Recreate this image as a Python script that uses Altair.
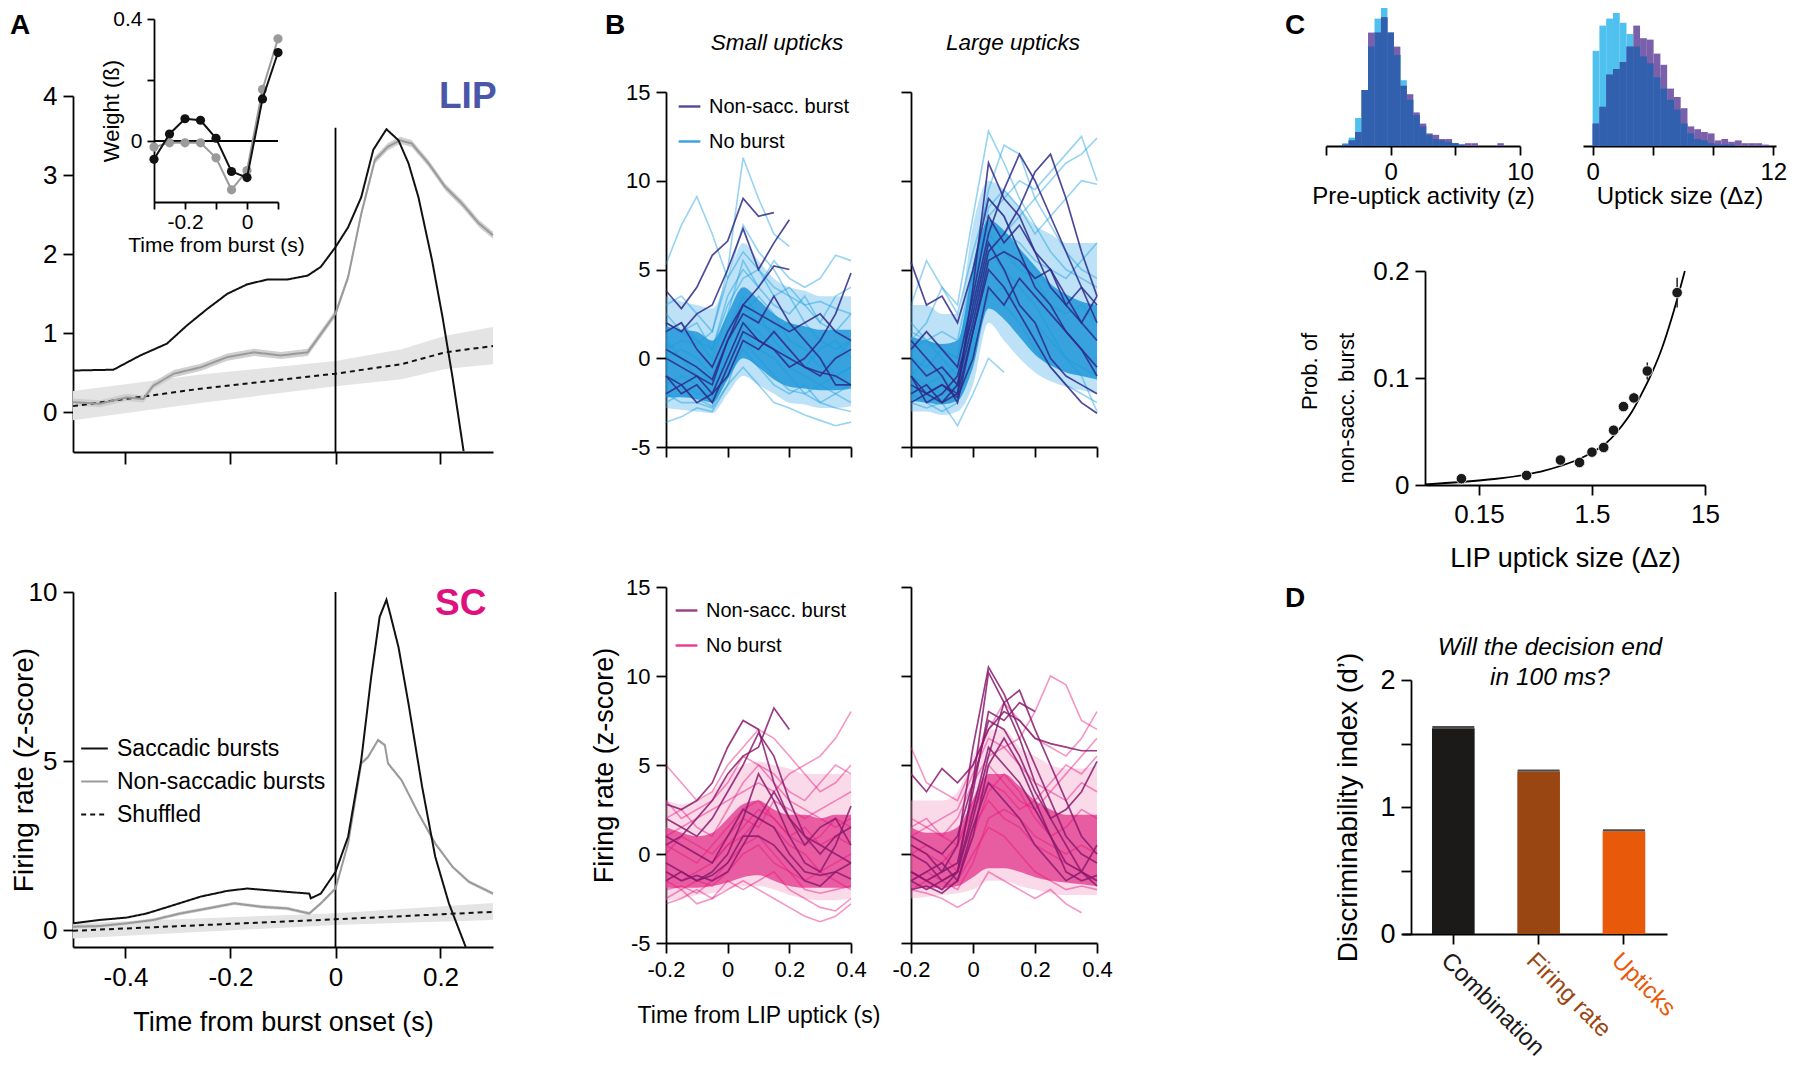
import altair as alt
import pandas as pd

FONT = "Liberation Sans"
W, H = 1784, 1055
MINUS = "replace(datum.label, '\u2212', '-')"

# ====================== DATA ======================
# ---- Panel A, LIP ----
lip_sacc_t = [-0.5, -0.423, -0.372, -0.321, -0.283, -0.244, -0.206, -0.168, -0.130, -0.092, -0.053, -0.028,
              0.0, 0.024, 0.049, 0.072, 0.097, 0.120, 0.139, 0.158, 0.184, 0.204, 0.223, 0.244]
lip_sacc_y = [0.53, 0.54, 0.72, 0.87, 1.10, 1.31, 1.50, 1.62, 1.68, 1.68, 1.73, 1.84,
              2.09, 2.34, 2.72, 3.32, 3.58, 3.44, 3.15, 2.72, 1.92, 1.20, 0.44, -0.49]
lip_nons_t = [-0.5, -0.449, -0.398, -0.366, -0.347, -0.308, -0.257, -0.206, -0.155, -0.104, -0.053, -0.028,
              0.0, 0.024, 0.049, 0.075, 0.100, 0.123, 0.145, 0.177, 0.209, 0.241, 0.273, 0.3]
lip_nons_y = [0.13, 0.11, 0.19, 0.17, 0.34, 0.49, 0.57, 0.70, 0.76, 0.72, 0.76, 0.99,
              1.25, 1.71, 2.51, 3.19, 3.36, 3.44, 3.40, 3.15, 2.85, 2.64, 2.39, 2.24]
lip_nons_sem = 0.045
lip_shuf_t = [-0.5, -0.257, 0.0, 0.126, 0.209, 0.3]
lip_shuf_y = [0.08, 0.30, 0.49, 0.61, 0.76, 0.84]
lip_shuf_lo = [-0.10, 0.12, 0.33, 0.42, 0.55, 0.61]
lip_shuf_hi = [0.27, 0.48, 0.65, 0.80, 0.97, 1.08]
lip_rule_top = 3.6

# ---- Panel A, inset ----
inset_t = [-0.3, -0.25, -0.2, -0.15, -0.1, -0.05, 0.0, 0.05, 0.1]
inset_sacc = [-0.06, 0.023, 0.073, 0.068, 0.009, -0.10, -0.12, 0.138, 0.29]
inset_nons = [-0.02, -0.006, -0.006, -0.006, -0.055, -0.16, -0.097, 0.169, 0.335]

# ---- Panel A, SC ----
sc_sacc_t = [-0.5, -0.449, -0.398, -0.36, -0.308, -0.257, -0.206, -0.168, -0.130, -0.092, -0.050, -0.047, -0.028,
             0.0, 0.024, 0.049, 0.068, 0.084, 0.097, 0.104, 0.120, 0.139, 0.165, 0.190, 0.216, 0.248]
sc_sacc_y = [0.20, 0.30, 0.37, 0.49, 0.74, 0.99, 1.16, 1.23, 1.18, 1.13, 1.08, 0.94, 1.08,
             1.72, 2.76, 5.02, 7.49, 9.26, 9.77, 9.36, 8.37, 6.70, 4.24, 2.17, 0.79, -0.5]
sc_nons_t = [-0.5, -0.449, -0.398, -0.347, -0.296, -0.244, -0.193, -0.142, -0.092, -0.050, -0.028,
             0.0, 0.024, 0.049, 0.062, 0.081, 0.094, 0.100, 0.126, 0.158, 0.190, 0.223, 0.254, 0.3]
sc_nons_y = [0.10, 0.12, 0.20, 0.30, 0.49, 0.64, 0.79, 0.69, 0.64, 0.49, 0.79,
             1.23, 2.56, 4.93, 5.12, 5.62, 5.47, 4.93, 4.43, 3.45, 2.56, 1.87, 1.43, 1.08]
sc_nons_sem = 0.05
sc_shuf_t = [-0.5, 0.0, 0.3]
sc_shuf_y = [-0.02, 0.32, 0.54]
sc_shuf_lo = [-0.25, 0.15, 0.30]
sc_shuf_hi = [0.20, 0.50, 0.80]
series_names = ["Saccadic bursts", "Non-saccadic bursts", "Shuffled"]

# ---- Panel B ----
b_t = [-0.2, -0.15, -0.1, -0.05, 0.0, 0.05, 0.1, 0.15, 0.2, 0.25, 0.3, 0.35, 0.4]
N = None

lip_small_outer_lo = [-2.8, -2.9, -3.0, -3.1, -2.0, -1.0, -1.5, -2.0, -2.5, -2.6, -2.8, -2.8, -2.7]
lip_small_outer_hi = [3.5, 3.2, 3.0, 2.8, 4.5, 6.5, 5.5, 4.5, 4.0, 3.8, 3.5, 3.5, 3.5]
lip_small_core_lo = [-2.2, -2.2, -2.3, -2.5, -1.2, 0.0, -0.5, -1.2, -1.6, -1.7, -1.8, -1.8, -1.7]
lip_small_core_hi = [1.8, 1.6, 1.5, 1.0, 2.5, 4.0, 3.3, 2.5, 2.0, 1.8, 1.6, 1.6, 1.6]
lip_small_light = [
    [5.3, 7.5, 9.1, 7.0, 4.5, 6.0, 5.0, 4.0, 3.5, 3.0, 3.2, 2.8, 2.5],
    [0.5, 1.0, 0.8, 1.5, 5.0, 11.3, 9.0, 7.0, 6.3, N, N, N, N],
    [2.0, 1.5, 1.0, 0.5, 3.5, 5.0, 4.0, 5.5, 4.5, 4.0, 4.5, 5.8, 5.5],
    [-3.6, -3.3, -2.8, -3.0, -1.5, -0.5, -1.5, -2.5, -2.8, -3.2, -3.5, -3.8, -3.6],
    [-2.5, -2.0, -2.3, -2.7, -1.0, 0.5, -0.5, -1.5, -2.0, -1.5, -2.5, -2.8, -3.0],
    [0.5, 0.0, -0.5, -1.5, 1.5, 3.5, 2.5, 1.0, 0.0, -0.5, 0.5, 1.0, 0.0],
    [1.5, 2.0, 1.0, 0.0, 2.5, 5.5, 4.0, 3.0, 2.5, 3.5, 2.0, 1.5, 2.5],
    [-1.0, -1.5, -2.0, -2.0, 0.0, 2.0, 1.5, 0.5, -0.5, -1.0, -1.5, -1.0, -0.5],
    [3.0, 3.5, 2.5, 1.5, 4.5, 7.5, 6.0, 5.0, 3.5, 2.0, 1.0, 0.5, 1.0],
    [-2.0, -2.5, -2.5, -2.8, -1.5, 1.0, 0.0, -1.0, -1.8, -2.0, -1.5, -2.0, -2.5],
    [0.0, 0.5, 0.0, -1.0, 1.0, 2.5, 3.5, 2.5, 1.0, 0.5, -0.5, 0.0, 1.0],
    [2.5, 1.5, 2.0, 0.5, 3.0, 4.5, 5.0, 3.5, 4.0, 3.0, 2.0, 3.5, 4.0],
    [-1.5, -1.0, -1.5, -2.5, -0.5, 1.5, 0.5, 0.0, -1.0, -2.0, -2.5, -2.0, -1.5],
    [1.0, 0.0, -1.0, -2.0, 0.5, 3.0, 2.0, 1.5, 2.0, 1.0, 0.0, -1.0, -0.5],
]
lip_small_dark = [
    [3.8, 2.8, 4.0, 5.8, 6.6, 9.0, 8.0, 8.2, N, N, N, N, N],
    [2.0, 1.5, 2.5, 3.0, 5.0, 7.3, 5.0, 6.5, 7.8, N, N, N, N],
    [0.0, -0.5, -1.0, -1.5, 1.0, 3.0, 4.0, 5.2, 5.0, N, N, N, N],
    [-1.0, -1.5, -1.0, -2.0, 0.0, 2.0, 1.0, 0.5, -0.5, 0.0, 1.0, 2.5, 4.8],
    [0.5, 0.0, -0.5, -1.2, 1.0, 2.5, 2.0, 3.5, 2.0, 1.0, 0.0, -1.5, -1.5],
    [-1.0, -2.0, -1.5, -2.5, -0.5, 1.5, 1.0, 0.5, 0.0, -0.5, -1.0, 0.0, 0.5],
    [1.5, 2.0, 0.5, -0.5, 1.5, 3.0, 2.5, 2.0, 1.5, 2.0, 2.5, 1.5, 1.0],
    [-2.0, -1.5, -2.5, -2.0, -1.0, 1.0, 0.5, 1.5, 0.5, -0.5, -0.8, -1.0, -1.5],
]

lip_large_outer_lo = [-3.0, -3.0, -3.2, -3.0, -1.5, 2.0, 1.0, 0.0, -0.8, -1.3, -1.6, -1.8, -2.0]
lip_large_outer_hi = [3.0, 3.0, 2.5, 2.5, 7.5, 10.0, 9.5, 8.5, 7.5, 7.0, 6.5, 6.5, 6.5]
lip_large_core_lo = [-2.4, -2.5, -2.6, -2.4, -0.5, 2.8, 2.2, 1.2, 0.2, -0.4, -0.8, -1.0, -1.2]
lip_large_core_hi = [1.2, 1.0, 0.8, 1.0, 5.0, 7.8, 7.2, 6.2, 5.2, 4.2, 3.6, 3.2, 3.0]
lip_large_light = [
    [1.0, 2.0, 4.0, 3.0, 8.0, 12.8, 11.0, 9.0, 7.5, 6.0, 5.0, 4.5, 4.0],
    [0.0, -0.5, 0.5, 0.0, 5.0, 9.5, 12.0, 11.5, 9.0, 7.5, 6.0, 5.0, 4.5],
    [-1.0, -1.5, -1.0, -0.5, 3.0, 6.0, 7.0, 8.0, 9.0, 10.0, 11.0, 11.5, 12.4],
    [1.5, 1.0, 0.5, 0.0, 4.0, 8.0, 9.0, 10.0, 9.5, 10.5, 11.5, 12.5, 10.0],
    [-1.5, -2.0, -2.5, -3.8, -2.0, 0.0, -0.8, N, N, N, N, N, N],
    [3.0, 5.5, 4.0, 2.5, 6.0, 9.0, 8.0, 6.0, 5.0, 4.0, 3.0, 2.0, 1.0],
    [-2.5, -2.8, -2.5, -2.0, 1.0, 4.0, 3.0, 2.0, 0.5, -0.5, -1.5, -2.0, -2.5],
    [-2.0, -1.5, -2.0, -1.5, 2.0, 6.0, 5.0, 4.0, 3.0, 1.5, 0.0, -1.0, -3.0],
    [0.5, 1.0, 0.0, -1.0, 4.0, 8.5, 9.5, 8.5, 7.0, 8.0, 9.0, 10.0, 9.8],
    [-1.0, 0.0, -1.0, -2.0, 2.5, 7.0, 6.0, 5.0, 4.5, 3.0, 2.5, 3.0, 2.0],
    [2.0, 1.0, 1.5, 1.0, 5.0, 7.5, 7.0, 6.5, 5.5, 5.0, 4.5, 5.5, 6.5],
    [-2.0, -2.5, -3.0, -2.5, 0.5, 3.5, 4.0, 3.0, 2.0, 1.0, 0.0, -0.5, -1.0],
]
lip_large_dark = [
    [5.4, 3.0, 3.5, 2.0, 5.0, 9.0, 8.0, 6.0, 4.0, 3.0, 1.5, 0.5, -0.5],
    [-1.0, -2.0, -1.5, -2.0, 4.0, 11.0, 9.0, 8.0, 6.0, 5.0, 3.0, 2.0, 1.0],
    [-1.5, -2.0, -2.5, -1.5, 3.0, 7.0, 9.5, 11.5, 10.0, 8.0, 6.0, 4.0, 2.0],
    [0.0, -1.0, -0.5, -1.5, 2.0, 6.0, 7.0, 8.5, 10.5, 11.5, 9.0, 6.0, 3.5],
    [-2.0, -1.5, -2.5, -2.0, 1.5, 5.0, 4.0, 2.5, 1.0, -0.5, -1.5, -2.5, -3.1],
    [-1.0, -2.5, -2.0, -1.0, 2.5, 6.5, 5.0, 3.0, 2.0, 0.0, -1.0, -1.5, -2.0],
    [1.0, 0.0, -1.0, -2.5, 1.5, 5.5, 6.0, 5.5, 4.5, 5.0, 3.5, 2.0, 3.5],
    [-2.5, -2.0, -1.5, -2.2, 0.0, 4.0, 3.0, 4.5, 3.5, 2.5, 1.5, 0.5, -1.0],
    [0.5, 1.5, 0.5, -0.5, 3.5, 8.0, 6.5, 7.5, 6.0, 4.0, 3.0, 4.0, 3.0],
]

sc_small_outer_lo = [-2.6, -2.5, -2.3, -2.2, -2.0, -1.8, -1.8, -2.0, -2.3, -2.5, -2.6, -2.6, -2.5]
sc_small_outer_hi = [3.0, 2.8, 3.0, 3.5, 4.5, 5.0, 5.2, 5.0, 4.8, 4.5, 4.5, 4.5, 4.5]
sc_small_core_lo = [-1.9, -1.9, -1.9, -1.8, -1.6, -1.3, -1.2, -1.5, -1.8, -1.9, -1.9, -1.9, -1.9]
sc_small_core_hi = [1.5, 1.2, 1.0, 1.2, 2.0, 2.8, 3.0, 2.5, 2.2, 2.2, 2.0, 2.2, 2.2]
sc_small_light = [
    [1.0, 1.5, 2.0, 2.5, 3.0, 3.5, 4.0, 3.5, 4.5, 5.0, 5.5, 6.5, 8.0],
    [5.0, 4.0, 3.0, 3.5, 5.0, 6.0, 7.0, 6.5, 5.5, 4.5, 3.5, 4.0, 5.0],
    [-2.8, -2.5, -2.0, -2.5, -2.0, -1.5, -2.0, -2.5, -3.0, -3.5, -3.8, -3.5, -2.8],
    [-2.5, -2.0, -2.8, -2.5, -1.5, -2.0, -1.5, -1.0, -2.0, -2.5, -3.0, -3.2, -2.5],
    [0.5, 0.0, -0.5, 0.5, 1.5, 2.5, 3.0, 2.0, 1.0, 0.5, 1.0, 2.0, 1.5],
    [-1.0, -1.5, -1.0, -0.5, 0.5, 1.0, 2.0, 1.5, 0.5, 0.0, -1.0, -0.5, 0.0],
    [2.0, 2.5, 1.5, 1.0, 2.5, 4.0, 5.0, 4.5, 3.5, 3.0, 4.0, 5.0, 4.5],
    [-1.5, -2.0, -1.5, -1.8, -1.0, 0.0, 0.5, -0.5, -1.0, -1.5, -1.0, -1.5, -2.0],
    [0.0, 1.0, 0.5, 0.0, 1.0, 2.0, 1.5, 3.0, 2.5, 2.0, 2.5, 3.0, 3.5],
    [3.0, 2.0, 2.5, 3.0, 4.0, 5.5, 5.0, 4.0, 3.0, 2.5, 2.0, 1.5, 2.0],
    [-2.0, -1.8, -2.2, -1.5, -0.5, 0.5, 1.0, 0.0, -1.0, -2.0, -2.2, -2.0, -1.8],
    [1.0, 0.5, 0.0, -0.5, 0.5, 1.5, 2.5, 2.0, 1.0, 1.5, 0.5, 1.0, 0.5],
]
sc_small_dark = [
    [0.5, 1.0, 2.0, 3.0, 4.5, 5.5, 6.0, 8.2, 7.0, N, N, N, N],
    [2.8, 2.5, 3.0, 4.0, 6.0, 7.5, 7.0, 4.0, 2.0, 1.0, 0.0, 1.0, 1.5],
    [2.0, 1.5, 1.0, 2.0, 3.5, 5.0, 6.8, 5.5, 3.0, 1.0, 0.5, 0.0, -0.5],
    [-0.5, -1.0, -1.5, -1.0, 0.0, 2.0, 4.5, 3.0, 1.0, -0.5, -1.0, 0.5, 2.7],
    [-1.0, -1.5, -1.2, -1.5, -1.0, 0.5, 2.0, 1.5, 0.0, -1.0, -1.2, -1.0, -1.4],
    [1.0, 0.5, 0.0, -0.5, 1.0, 2.5, 2.0, 3.5, 2.0, 0.5, 1.5, 2.0, 0.5],
    [-1.5, -1.0, -1.5, -1.2, -0.5, 1.0, 1.0, 0.5, -0.5, -1.5, -1.8, -1.0, -0.5],
]

sc_large_outer_lo = [-2.5, -2.4, -2.3, -2.2, -2.0, -1.5, -1.5, -1.8, -2.0, -2.2, -2.3, -2.3, -2.3]
sc_large_outer_hi = [3.0, 3.0, 3.0, 3.5, 5.5, 7.0, 7.0, 6.0, 5.5, 5.0, 4.8, 4.8, 5.0]
sc_large_core_lo = [-1.9, -1.9, -1.9, -1.8, -1.3, -0.8, -0.8, -1.0, -1.3, -1.5, -1.6, -1.7, -1.8]
sc_large_core_hi = [1.5, 1.2, 1.2, 1.5, 3.0, 4.5, 4.5, 3.8, 3.0, 2.5, 2.2, 2.2, 2.2]
sc_large_light = [
    [1.0, 1.5, 1.0, 2.0, 4.0, 5.5, 6.0, 6.5, 8.0, 10.0, 9.5, 7.5, 7.0],
    [6.0, 4.0, 3.5, 3.0, 5.0, 7.0, 8.5, 7.5, 6.5, 6.0, 5.5, 6.5, 8.0],
    [-2.0, -2.2, -2.5, -3.0, -2.5, -1.0, -1.5, -2.0, -2.5, -2.0, -2.8, -3.3, N],
    [0.5, 0.0, -0.5, 0.5, 3.0, 5.0, 4.0, 3.0, 2.5, 3.5, 4.5, 5.5, 6.5],
    [-1.0, -1.5, -1.0, -0.5, 1.5, 3.0, 2.0, 1.5, 0.5, 0.0, -0.5, -1.0, -1.5],
    [2.0, 1.5, 2.0, 2.5, 4.5, 6.5, 6.0, 5.0, 4.0, 3.5, 3.0, 4.0, 3.5],
    [-2.0, -1.5, -2.0, -1.5, 0.0, 1.5, 1.0, 0.0, -1.0, -1.5, -2.0, -1.8, -2.0],
    [0.0, 0.5, 0.0, -1.0, 1.0, 3.5, 4.5, 3.5, 2.0, 1.0, 1.5, 2.5, 2.0],
    [-1.5, -1.0, -1.5, -2.0, -0.5, 2.0, 2.5, 2.0, 1.0, 0.5, 0.0, 0.5, 0.0],
    [1.5, 2.0, 1.0, 0.5, 2.5, 4.0, 3.5, 2.5, 3.0, 4.0, 5.0, 4.5, 5.5],
]
sc_large_dark = [
    [-1.0, -1.5, -1.0, 0.5, 6.0, 10.5, 9.0, 7.0, 5.0, 3.0, 1.0, 0.0, -0.5],
    [0.0, -0.5, -1.5, -1.0, 4.0, 10.2, 8.5, 6.5, 4.0, 2.0, 0.5, -1.0, -1.5],
    [-1.5, -2.0, -1.5, -1.0, 2.0, 5.5, 8.5, 9.2, 7.0, 5.0, 3.0, 1.0, 0.0],
    [4.5, 3.5, 4.8, 4.0, 5.0, 7.0, 8.0, 7.5, 6.5, 6.2, 6.0, 5.8, 5.8],
    [-2.0, -1.8, -2.2, -1.5, 1.0, 5.0, 6.5, 5.0, 3.0, 1.0, -1.0, -1.5, -1.2],
    [1.0, 0.5, 0.0, 1.0, 4.0, 7.5, 7.0, 5.5, 3.5, 2.0, 2.5, 3.5, 5.2],
    [-1.0, -1.5, -2.0, -1.0, 2.5, 6.0, 5.0, 4.0, 2.5, 1.0, -0.5, -1.0, -1.8],
    [0.5, 0.0, -1.0, -0.5, 3.5, 8.0, 7.5, 8.5, 8.0, N, N, N, N],
    [-1.5, -1.0, -0.5, -1.5, 1.5, 4.0, 3.0, 2.0, 0.5, -0.5, -1.5, -1.0, 0.5],
]
b_groups = ["Non-sacc. burst", "No burst"]

# ---- Panel C histograms (relative frequency, % of max) ----
hl_start = [-3.75, -3.25, -2.75, -2.25, -1.75, -1.25, -0.75, -0.25, 0.25, 0.75, 1.25, 1.75, 2.25,
            2.75, 3.25, 3.75, 4.25, 4.75, 5.25, 5.75, 6.25, 6.75, 7.25, 7.75, 8.25]
hl_width = 0.5
hl_noburst = [2, 6, 20, 40, 71, 91, 100, 81, 65, 47, 33, 22, 14, 8, 5, 4, 3, 2, 1, 0, 0, 0, 0, 0, 0]
hl_burst = [1, 4, 10, 40, 81, 81, 92, 81, 71, 43, 37, 24, 16, 9, 8, 5, 5, 2, 1, 2, 2, 0, 0, 0, 2]
hr_start = [0.0, 0.45, 0.9, 1.35, 1.8, 2.25, 2.7, 3.15, 3.6, 4.05, 4.5, 4.95, 5.4, 5.85, 6.3, 6.75,
            7.2, 7.65, 8.1, 8.55, 9.0, 9.45, 9.9, 10.35, 10.8, 11.25]
hr_width = 0.45
hr_noburst = [68, 86, 91, 95, 88, 80, 71, 64, 59, 49, 41, 33, 26, 16, 9, 5, 4, 2, 1, 1, 1, 0, 0, 0, 0, 0]
hr_burst = [16, 28, 51, 55, 60, 71, 86, 77, 76, 66, 58, 41, 35, 27, 14, 12, 10, 9, 4, 5, 3, 4, 2, 2, 2, 1]

# ---- Panel C scatter ----
sc_x = [0.105, 0.396, 0.789, 1.164, 1.5, 1.905, 2.33, 2.85, 3.52, 4.63, 8.50]
sc_p = [0.0059, 0.009, 0.0233, 0.0211, 0.0307, 0.0351, 0.0512, 0.0733, 0.0814, 0.1065, 0.1798]
sc_err = [0.0, 0.0, 0.0, 0.0, 0.0, 0.0, 0.0, 0.003, 0.005, 0.008, 0.014]
fit_x = [0.05, 0.103, 0.205, 0.40, 0.57, 0.80, 1.12, 1.58, 2.08, 2.73, 3.35, 4.12, 5.06, 6.23, 7.66, 8.79, 9.95]
fit_p = [0.0006, 0.0028, 0.0056, 0.0099, 0.0134, 0.018, 0.0236, 0.0317, 0.0407, 0.0547, 0.0677,
         0.0851, 0.1043, 0.1276, 0.157, 0.179, 0.2]

# ---- Panel D ----
d_cats = ["Combination", "Firing rate", "Upticks"]
d_vals = [1.62, 1.28, 0.81]
d_err = [0.01, 0.008, 0.006]
d_colors = ["#1c1a19", "#9a4612", "#e85a0a"]

# ====================== LAYOUT (pixel ranges of each panel) ======================
P = {
    "lip": dict(xd=[-0.5, 0.3], xr=[65, 485], yd=[-0.5, 4], yr=[444, 88]),
    "ins": dict(xd=[-0.3, 0.1], xr=[146, 270], yd=[-0.2, 0.4], yr=[194, 11]),
    "sc": dict(xd=[-0.5, 0.3], xr=[65, 485], yd=[-0.5, 10], yr=[939, 584]),
    "btl": dict(xd=[-0.2, 0.4], xr=[658, 843], yd=[-5, 15], yr=[439, 84]),
    "btr": dict(xd=[-0.2, 0.4], xr=[903, 1089], yd=[-5, 15], yr=[439, 84]),
    "bbl": dict(xd=[-0.2, 0.4], xr=[658, 843], yd=[-5, 15], yr=[935, 579]),
    "bbr": dict(xd=[-0.2, 0.4], xr=[903, 1089], yd=[-5, 15], yr=[935, 579]),
    "hl": dict(xd=[-5, 10], xr=[1318, 1512], yd=[0, 100], yr=[138, -2]),
    "hr": dict(xd=[-0.64, 12.18], xr=[1575, 1768], yd=[0, 100], yr=[138, -2]),
    "sct": dict(xd=[0.05, 15], xr=[1417, 1697], yd=[0, 0.2], yr=[477, 263], log=True),
    "d": dict(yd=[0, 2], yr=[926, 672]),
}


def sx(p):
    if p.get("log"):
        return alt.Scale(type="log", domain=p["xd"], range=p["xr"], nice=False)
    return alt.Scale(domain=p["xd"], range=p["xr"], nice=False, zero=False)


def sy(p):
    return alt.Scale(domain=p["yd"], range=p["yr"], nice=False, zero=False)


def X(field, p, axis=None):
    return alt.X(field, type="quantitative", scale=sx(p), axis=axis)


def Y(field, p, axis=None):
    return alt.Y(field, type="quantitative", scale=sy(p), axis=axis)


def axis(orient, pos, values, lsize, title=None, tsize=None, tpad=8, labels=True, expr=MINUS,
         tick=10, lpad=5, **kw):
    off = pos - H if orient == "bottom" else -pos
    d = dict(orient=orient, offset=off, values=values, labels=labels, tickSize=tick, labelPadding=lpad,
             labelFontSize=lsize, labelFlush=False, labelOverlap=False, grid=False, title=title,
             format=".2~f")
    if tsize:
        d["titleFontSize"] = tsize
        d["titlePadding"] = tpad
    if labels and expr:
        d["labelExpr"] = expr
    d.update(kw)
    return alt.Axis(**d)


def axes_layer(p, xax=None, yax=None):
    df = pd.DataFrame({"x": p["xd"], "y": p["yd"]})
    return alt.Chart(df).mark_point(opacity=0).encode(x=X("x", p, xax), y=Y("y", p, yax))


def text_layer(txt, x, y, size, color="black", weight="normal", style="normal", align="left",
               baseline="alphabetic", **kw):
    return alt.Chart(pd.DataFrame({"k": [0]})).mark_text(
        text=txt, fontSize=size, font=FONT, color=color, fontWeight=weight, fontStyle=style,
        align=align, baseline=baseline, **kw).encode(x=alt.value(x), y=alt.value(y))


def lines_df(parts):
    rows = []
    for name, ts, ys in parts:
        for t, v in zip(ts, ys):
            rows.append({"t": t, "y": v, "s": name})
    return pd.DataFrame(rows)


def traces_df(traces, tag):
    rows = []
    for i, tr in enumerate(traces):
        for t, v in zip(b_t, tr):
            if v is not None:
                rows.append({"t": t, "z": v, "trace": f"{tag}{i}", "g": tag})
    return pd.DataFrame(rows)


layers = []

# ====================== PANEL A: LIP ======================
p = P["lip"]
layers.append(axes_layer(p, axis("bottom", 444, [-0.4, -0.2, 0, 0.2], 26, labels=False, tick=12),
                         axis("left", 65, [0, 1, 2, 3, 4], 26, tick=10, lpad=6)))
lip_shuf = pd.DataFrame({"t": lip_shuf_t, "lo": lip_shuf_lo, "hi": lip_shuf_hi})
layers.append(alt.Chart(lip_shuf).mark_area(color="#e4e4e4").encode(
    x=X("t", p), y=Y("lo", p), y2="hi"))
lip_nons = pd.DataFrame({"t": lip_nons_t, "y": lip_nons_y})
layers.append(alt.Chart(lip_nons).transform_calculate(
    lo=f"datum.y - {lip_nons_sem}", hi=f"datum.y + {lip_nons_sem}").mark_area(color="#cfcfcf").encode(
    x=X("t", p), y=Y("lo", p), y2="hi"))
layers.append(alt.Chart(pd.DataFrame({"t": [0.0], "a": [-0.5], "b": [lip_rule_top]})).mark_rule(
    color="black", strokeWidth=1.8).encode(x=X("t", p), y=Y("a", p), y2="b"))
lip_lines = lines_df([("Shuffled", lip_shuf_t, lip_shuf_y), ("Non-saccadic bursts", lip_nons_t, lip_nons_y),
                      ("Saccadic bursts", lip_sacc_t, lip_sacc_y)])
layers.append(alt.Chart(lip_lines).mark_line(strokeWidth=2).encode(
    x=X("t", p), y=Y("y", p),
    color=alt.Color("s:N", scale=alt.Scale(domain=series_names, range=["#111111", "#9a9a9a", "#111111"]),
                    legend=None),
    strokeDash=alt.StrokeDash("s:N", scale=alt.Scale(domain=series_names, range=[[1, 0], [1, 0], [5, 4]]),
                              legend=None)))
layers.append(text_layer("LIP", 431, 100, 37, color="#4a57a8", weight="bold"))

# ---- inset ----
p = P["ins"]
layers.append(axes_layer(
    p,
    axis("bottom", 194, [-0.3, -0.2, -0.1, 0, 0.1], 21, title="Time from burst (s)", tsize=21, tpad=2,
         tick=7, lpad=2, expr="(datum.value == 0 || (datum.value < -0.15 && datum.value > -0.25)) ? "
                              "replace(datum.label, '\u2212', '-') : ''"),
    axis("left", 146, [0, 0.2, 0.4], 21, title="Weight (\u00df)", tsize=22, tpad=-11, tick=7, lpad=5,
         expr="(datum.value == 0 || datum.value > 0.3) ? datum.label : ''")))
layers.append(alt.Chart(pd.DataFrame({"a": [-0.3], "b": [0.1], "y": [0.0]})).mark_rule(
    color="black", strokeWidth=1.8).encode(x=X("a", p), x2="b", y=Y("y", p)))
ins_g = pd.DataFrame({"t": inset_t, "w": inset_nons})
ins_b = pd.DataFrame({"t": inset_t, "w": inset_sacc})
layers.append(alt.Chart(ins_g).mark_line(color="#9a9a9a", strokeWidth=2, point=alt.OverlayMarkDef(
    filled=True, color="#9a9a9a", size=85, opacity=1)).encode(x=X("t", p), y=Y("w", p)))
layers.append(alt.Chart(ins_b).mark_line(color="#111111", strokeWidth=2, point=alt.OverlayMarkDef(
    filled=True, color="#111111", size=85, opacity=1)).encode(x=X("t", p), y=Y("w", p)))

# ====================== PANEL A: SC ======================
p = P["sc"]
layers.append(axes_layer(
    p,
    axis("bottom", 939, [-0.4, -0.2, 0, 0.2], 26, title="Time from burst onset (s)", tsize=27, tpad=19,
         tick=11, lpad=6),
    axis("left", 65, [0, 5, 10], 26, title="Firing rate (z-score)", tsize=28, tpad=-10, tick=10, lpad=6)))
sc_shuf = pd.DataFrame({"t": sc_shuf_t, "lo": sc_shuf_lo, "hi": sc_shuf_hi})
layers.append(alt.Chart(sc_shuf).mark_area(color="#e4e4e4").encode(x=X("t", p), y=Y("lo", p), y2="hi"))
sc_nons = pd.DataFrame({"t": sc_nons_t, "y": sc_nons_y})
layers.append(alt.Chart(sc_nons).transform_calculate(
    lo=f"datum.y - {sc_nons_sem}", hi=f"datum.y + {sc_nons_sem}").mark_area(color="#d5d5d5").encode(
    x=X("t", p), y=Y("lo", p), y2="hi"))
layers.append(alt.Chart(pd.DataFrame({"t": [0.0], "a": [-0.5], "b": [10.0]})).mark_rule(
    color="black", strokeWidth=1.8).encode(x=X("t", p), y=Y("a", p), y2="b"))
sc_lines = lines_df([("Shuffled", sc_shuf_t, sc_shuf_y), ("Non-saccadic bursts", sc_nons_t, sc_nons_y),
                     ("Saccadic bursts", sc_sacc_t, sc_sacc_y)])
leg_sc = dict(orient="none", legendX=72, legendY=726, title=None, symbolType="stroke", symbolSize=711,
              symbolStrokeWidth=2.2, labelFontSize=23, labelFont=FONT, labelColor="black", labelOffset=8,
              rowPadding=6, padding=0, labelLimit=400)
layers.append(alt.Chart(sc_lines).mark_line(strokeWidth=2).encode(
    x=X("t", p), y=Y("y", p),
    color=alt.Color("s:N", scale=alt.Scale(domain=series_names, range=["#111111", "#9a9a9a", "#111111"]),
                    legend=alt.Legend(**leg_sc)),
    strokeDash=alt.StrokeDash("s:N", scale=alt.Scale(domain=series_names, range=[[1, 0], [1, 0], [5, 4]]),
                              legend=alt.Legend(**leg_sc))))
layers.append(text_layer("SC", 427, 607, 37, color="#e0117f", weight="bold"))

# ====================== PANEL B ======================
B_SPECS = [
    ("btl", lip_small_outer_lo, lip_small_outer_hi, lip_small_core_lo, lip_small_core_hi,
     lip_small_light, lip_small_dark, "top", True, False),
    ("btr", lip_large_outer_lo, lip_large_outer_hi, lip_large_core_lo, lip_large_core_hi,
     lip_large_light, lip_large_dark, "top", False, False),
    ("bbl", sc_small_outer_lo, sc_small_outer_hi, sc_small_core_lo, sc_small_core_hi,
     sc_small_light, sc_small_dark, "bot", True, True),
    ("bbr", sc_large_outer_lo, sc_large_outer_hi, sc_large_core_lo, sc_large_core_hi,
     sc_large_light, sc_large_dark, "bot", False, True),
]
PAL = {
    "top": dict(outer="#5bb6ea", core="#1592d6", light="#1b9ee0", dark="#2e2a8a", leg="#1590d8"),
    "bot": dict(outer="#f3a3c7", core="#e43d8f", light="#e8157f", dark="#8b1a6e", leg="#e8157f"),
}
for key, olo, ohi, clo, chi, light, dark, row, left, bottom in B_SPECS:
    p = P[key]
    pal = PAL[row]
    ypix = p["yr"][0]
    xpix = p["xr"][0]
    if bottom and left:
        xax = axis("bottom", ypix, [-0.2, 0, 0.2, 0.4], 22, title="Time from LIP uptick (s)", tsize=23,
                   tpad=24, tick=10, lpad=6)
    else:
        xax = axis("bottom", ypix, [-0.2, 0, 0.2, 0.4], 22, labels=bottom, tick=10, lpad=6)
    if left and bottom:
        yax = axis("left", xpix, [-5, 0, 5, 10, 15], 22, title="Firing rate (z-score)", tsize=27, tpad=7,
                   tick=10, lpad=6)
    else:
        yax = axis("left", xpix, [-5, 0, 5, 10, 15], 22, labels=left, tick=10, lpad=6)
    layers.append(axes_layer(p, xax, yax))
    band = pd.DataFrame({"t": b_t, "olo": olo, "ohi": ohi, "clo": clo, "chi": chi})
    layers.append(alt.Chart(band).mark_area(color=pal["outer"], opacity=0.4, interpolate="monotone").encode(
        x=X("t", p), y=Y("olo", p), y2="ohi"))
    layers.append(alt.Chart(band).mark_area(color=pal["core"], opacity=0.8, interpolate="monotone").encode(
        x=X("t", p), y=Y("clo", p), y2="chi"))
    layers.append(alt.Chart(traces_df(light, "No burst")).mark_line(
        color=pal["light"], opacity=0.45, strokeWidth=1.6).encode(
        x=X("t", p), y=Y("z", p), detail="trace:N"))
    if left:
        leg = alt.Legend(orient="none", legendX=p["xr"][0] + (11 if row == "top" else 8),
                         legendY=86 if row == "top" else 590, title=None, symbolType="stroke",
                         symbolSize=470, symbolStrokeWidth=2.4, labelFontSize=20, labelFont=FONT,
                         labelColor="black", labelOffset=7, rowPadding=12, padding=0, labelLimit=400)
        col = alt.Color("g:N", scale=alt.Scale(domain=b_groups, range=[pal["dark"], pal["leg"]]), legend=leg)
        layers.append(alt.Chart(traces_df(dark, "Non-sacc. burst")).mark_line(
            opacity=0.85, strokeWidth=1.7).encode(x=X("t", p), y=Y("z", p), detail="trace:N", color=col))
    else:
        layers.append(alt.Chart(traces_df(dark, "Non-sacc. burst")).mark_line(
            color=pal["dark"], opacity=0.85, strokeWidth=1.7).encode(
            x=X("t", p), y=Y("z", p), detail="trace:N"))

layers.append(text_layer("Small upticks", 769, 42, 22.5, style="italic", align="center"))
layers.append(text_layer("Large upticks", 1005, 42, 22.5, style="italic", align="center"))

# ====================== PANEL C: histograms ======================
for key, starts, width, nob, bur, vals, expr, title in [
    ("hl", hl_start, hl_width, hl_noburst, hl_burst, [-5, 0, 5, 10],
     "(datum.value == 0 || datum.value == 10) ? datum.label : ''", "Pre-uptick activity (z)"),
    ("hr", hr_start, hr_width, hr_noburst, hr_burst, [0, 4, 8, 12],
     "(datum.value == 0 || datum.value == 12) ? datum.label : ''", "Uptick size (\u0394z)"),
]:
    p = P[key]
    df = pd.DataFrame({"a": starts, "nob": nob, "bur": bur})
    df["b"] = df["a"] + width
    df["base"] = 0
    layers.append(axes_layer(p, axis("bottom", 138, vals, 24, title=title, tsize=24, tpad=0,
                                     tick=9, lpad=5, expr=expr), None))
    layers.append(alt.Chart(df).mark_bar(color="#4ec1ef").encode(
        x=X("a", p), x2="b", y=Y("nob", p), y2="base"))
    layers.append(alt.Chart(df).mark_bar(color="#7a5faa").encode(
        x=X("a", p), x2="b", y=Y("bur", p), y2="base"))
    layers.append(alt.Chart(df).transform_calculate(ov="min(datum.nob, datum.bur)").mark_bar(
        color="#3060ae").encode(x=X("a", p), x2="b", y=Y("ov", p), y2="base"))

# ====================== PANEL C: scatter ======================
p = P["sct"]
layers.append(axes_layer(
    p,
    axis("bottom", 477, [0.15, 1.5, 15], 26, title="LIP uptick size (\u0394z)", tsize=27, tpad=18, tick=10,
         lpad=6, expr="datum.value < 1 ? '0.15' : (datum.value < 10 ? '1.5' : '15')"),
    axis("left", 1417, [0, 0.1, 0.2], 26, tick=10, lpad=6)))
layers.append(text_layer("Prob. of", 1302, 325, 22, align="right", baseline="middle", angle=270))
layers.append(text_layer("non-sacc. burst", 1339, 325, 22, align="right", baseline="middle", angle=270))
fit = pd.DataFrame({"x": fit_x, "p": fit_p})
layers.append(alt.Chart(fit).mark_line(color="black", strokeWidth=1.8, interpolate="monotone").encode(
    x=X("x", p), y=Y("p", p)))
pts = pd.DataFrame({"x": sc_x, "p": sc_p, "e": sc_err})
layers.append(alt.Chart(pts).transform_filter("datum.e > 0").transform_calculate(
    lo="datum.p - datum.e", hi="datum.p + datum.e").mark_rule(color="#222222", strokeWidth=1.5).encode(
    x=X("x", p), y=Y("lo", p), y2="hi"))
layers.append(alt.Chart(pts).mark_circle(size=110, color="#1a1a1a", opacity=1, stroke="white",
                                         strokeWidth=0.8).encode(x=X("x", p), y=Y("p", p)))

# ====================== PANEL D ======================
p = P["d"]
dx = alt.Scale(type="band", domain=d_cats, range=[1394, 1659], paddingInner=0.5, paddingOuter=0.303,
               align=0.58)
label_col = {"condition": [{"test": f"datum.value == '{c}'", "value": col} for c, col in
                           zip(d_cats, d_colors)], "value": "black"}
d_xax = alt.Axis(orient="bottom", offset=926 - H, labelAngle=45, labelFontSize=24, tickSize=10,
                 labelPadding=4, grid=False, title=None, labelColor=label_col, labelOverlap=False,
                 labelLimit=400)
d_yax = axis("left", 1403, [0, 0.5, 1, 1.5, 2], 27, title="Discriminability index (d\u2019)", tsize=28,
             tpad=17, tick=10, lpad=6, expr="(datum.value == 0 || datum.value == 1 || datum.value == 2) "
                                            "? datum.label : ''")
ddf = pd.DataFrame({"c": d_cats, "v": d_vals, "e": d_err})
layers.append(alt.Chart(ddf).mark_bar().encode(
    x=alt.X("c:N", scale=dx, axis=d_xax, sort=d_cats),
    y=Y("v", p, d_yax),
    color=alt.Color("c:N", scale=alt.Scale(domain=d_cats, range=d_colors), legend=None)))
layers.append(alt.Chart(ddf).transform_calculate(top="datum.v + datum.e").mark_tick(
    color="black", thickness=2, size=42).encode(
    x=alt.X("c:N", scale=dx, axis=None, sort=d_cats), y=Y("top", p)))
layers.append(text_layer("Will the decision end\nin 100 ms?", 1542, 647, 24.5, style="italic",
                         align="center", lineBreak="\n", lineHeight=30))

# ====================== panel letters ======================
layers.append(text_layer("A", 2, 26, 28, weight="bold"))
layers.append(text_layer("B", 597, 26, 28, weight="bold"))
layers.append(text_layer("C", 1277, 26, 28, weight="bold"))
layers.append(text_layer("D", 1277, 599, 28, weight="bold"))

chart = alt.layer(*layers).resolve_scale(
    x="independent", y="independent", color="independent", strokeDash="independent"
).resolve_axis(x="independent", y="independent").resolve_legend(
    color="independent", strokeDash="independent"
).properties(
    width=W, height=H, autosize=alt.AutoSizeParams(type="none"), padding=0, background="white"
).configure_view(stroke=None).configure_axis(
    domainColor="black", domainWidth=1.8, tickColor="black", tickWidth=1.8, labelColor="black",
    titleColor="black", labelFont=FONT, titleFont=FONT, titleFontWeight="normal", grid=False
)

chart.save("out.html", embed_options={"renderer": "svg", "actions": False})
